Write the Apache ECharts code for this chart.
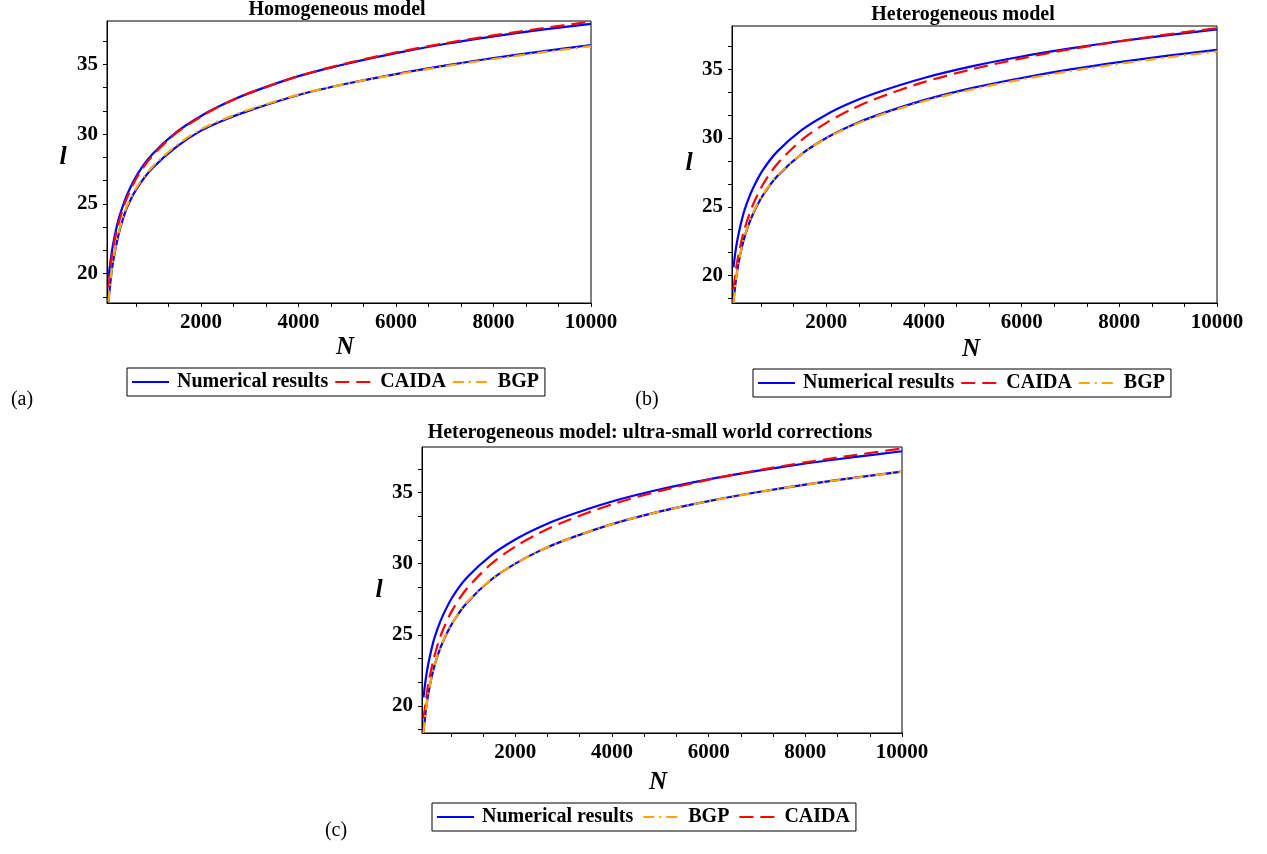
<!DOCTYPE html>
<html>
<head>
<meta charset="utf-8">
<script src="https://cdn.jsdelivr.net/npm/echarts@6/dist/echarts.min.js"></script>
<style>
html,body{margin:0;padding:0;background:#fff;}
#chart{width:1267px;height:854px;}
</style>
</head>
<body>
<div id="chart"></div>
<script>
// ---- data ----
const N = [100,150,200,300,400,500,700,1000,1500,2000,2500,3000,4000,5000,6000,7000,8000,9000,10000];

// panel (a) Homogeneous model
const a_num_upper = [19.7,21.1,22.2,23.8,24.9,25.8,27.15,28.55,30.15,31.3,32.2,32.95,34.15,35.05,35.8,36.45,37.0,37.48,37.9];
const a_caida     = [19.0,20.7,21.9,23.5,24.7,25.6,27.0,28.45,30.1,31.25,32.2,32.95,34.15,35.08,35.85,36.5,37.07,37.58,38.05];
const a_num_lower = [18.0,19.7,20.95,22.7,23.95,24.9,26.2,27.55,29.1,30.25,31.05,31.7,32.8,33.62,34.3,34.9,35.45,35.93,36.38];
const a_bgp       = [18.0,19.8,21.05,22.8,24.05,25.0,26.3,27.65,29.2,30.35,31.12,31.76,32.83,33.62,34.27,34.85,35.38,35.85,36.3];

// panel (b) Heterogeneous model
const b_num_upper = [20.6,21.95,22.95,24.45,25.5,26.35,27.66,29.03,30.59,31.7,32.56,33.26,34.37,35.23,35.93,36.52,37.04,37.49,37.9];
const b_caida     = [19.0,20.4,21.45,23.05,24.2,25.15,26.6,28.13,29.87,31.1,32.06,32.84,34.07,35.02,35.8,36.46,37.03,37.54,37.99];
const b_num_lower = [18.07,19.68,20.83,22.45,23.59,24.48,25.82,27.24,28.85,30.0,30.89,31.61,32.76,33.65,34.37,34.99,35.52,35.99,36.41];
const b_bgp       = [18.0,19.65,20.85,22.5,23.65,24.55,25.88,27.28,28.85,29.98,30.85,31.55,32.68,33.55,34.26,34.87,35.4,35.87,36.3];

// panel (c) Heterogeneous model: ultra-small world corrections
const c_num_upper = [20.6,21.95,22.95,24.45,25.5,26.35,27.66,29.03,30.59,31.7,32.56,33.26,34.37,35.23,35.93,36.52,37.04,37.49,37.9];
const c_caida     = [19.1,20.35,21.55,23.15,24.37,25.32,26.75,28.25,29.98,31.2,32.15,32.93,34.17,35.12,35.9,36.55,37.12,37.62,38.1];
const c_num_lower = [18.1,19.7,20.85,22.47,23.61,24.5,25.84,27.26,28.87,30.0,30.9,31.62,32.78,33.68,34.4,35.02,35.56,36.03,36.47];
const c_bgp       = [18.1,19.7,20.87,22.5,23.64,24.53,25.86,27.28,28.88,30.0,30.9,31.62,32.78,33.67,34.39,35.01,35.55,36.02,36.46];

// ticks
const xTickLabels = [2000,4000,6000,8000,10000];
const xTickMarks  = [666.67,1333.33,2000,2666.67,3333.33,4000,4666.67,5333.33,6000,6666.67,7333.33,8000,8666.67,9333.33,10000];
const yTickLabels = [20,25,30,35];
const yTickMarks  = [18.33,20,21.67,23.33,25,26.67,28.33,30,31.67,33.33,35,36.67];

const titles = ['Homogeneous model','Heterogeneous model','Heterogeneous model: ultra-small world corrections'];
const panelTags = ['(a)','(b)','(c)'];
const seriesNames = {num:'Numerical results', caida:'CAIDA', bgp:'BGP'};
const legendOrders = [
  ['Numerical results','CAIDA','BGP'],
  ['Numerical results','CAIDA','BGP'],
  ['Numerical results','BGP','CAIDA']
];

// ---- layout / style ----
const SERIF = '"Liberation Serif","Times New Roman",serif';
const grids = [
  {left:107, top:21, width:484, height:282},
  {left:732, top:26, width:485, height:277},
  {left:422, top:447, width:480, height:286}
];
const yRanges = [[17.9,38.1],[18.0,38.15],[18.1,38.2]];
const xMin = 70, xMax = 10000;

const BLUE = '#0000ff', RED = '#ff0000', ORANGE = '#ffa500';

function pts(ys){ return N.map((n,i)=>[n, ys[i]]); }

const panels = [
  {up:a_num_upper, caida:a_caida, low:a_num_lower, bgp:a_bgp},
  {up:b_num_upper, caida:b_caida, low:b_num_lower, bgp:b_bgp},
  {up:c_num_upper, caida:c_caida, low:c_num_lower, bgp:c_bgp}
];

const xAxes = [], yAxes = [], series = [], legends = [];
const plainNum = v => String(Math.round(v));
panels.forEach((p, gi) => {
  xAxes.push({
    type:'value', gridIndex:gi, min:xMin, max:xMax,
    axisLine:{show:true, onZero:false, lineStyle:{color:'#000', width:1}},
    axisTick:{show:true, inside:false, length:4, customValues:xTickMarks, lineStyle:{color:'#000'}},
    axisLabel:{show:true, customValues:xTickLabels, margin:9, color:'#000', formatter:plainNum,
      fontFamily:SERIF, fontWeight:'bold', fontSize:21},
    splitLine:{show:false}
  });
  yAxes.push({
    type:'value', gridIndex:gi, min:yRanges[gi][0], max:yRanges[gi][1],
    axisLine:{show:true, onZero:false, lineStyle:{color:'#000', width:1}},
    axisTick:{show:true, inside:false, length:4, customValues:yTickMarks, lineStyle:{color:'#000'}},
    axisLabel:{show:true, customValues:yTickLabels, margin:9, color:'#000', formatter:plainNum,
      fontFamily:SERIF, fontWeight:'bold', fontSize:21},
    splitLine:{show:false}
  });
  const common = {type:'line', xAxisIndex:gi, yAxisIndex:gi, showSymbol:false, symbol:'none',
    smooth:0.3, silent:true, animation:false};
  series.push(Object.assign({}, common, {name:seriesNames.num, data:pts(p.up),
    lineStyle:{color:BLUE, width:2.2}, itemStyle:{color:BLUE}}));
  series.push(Object.assign({}, common, {name:seriesNames.num, data:pts(p.low),
    lineStyle:{color:BLUE, width:2.2}, itemStyle:{color:BLUE}}));
  series.push(Object.assign({}, common, {name:seriesNames.caida, data:pts(p.caida),
    lineStyle:{color:RED, width:2.2, type:[14,7]}, itemStyle:{color:RED}}));
  series.push(Object.assign({}, common, {name:seriesNames.bgp, data:pts(p.bgp),
    lineStyle:{color:ORANGE, width:2.2, type:[11,5,2,5]}, itemStyle:{color:ORANGE}}));
});

const legendPos = [{left:127, top:368, gap:6},{left:753, top:369, gap:6},{left:432, top:803, gap:9}];
legendPos.forEach((lp, gi) => {
  legends.push({
    data: legendOrders[gi], left:lp.left, top:lp.top, orient:'horizontal',
    itemWidth:37, itemHeight:14, itemGap:lp.gap, padding:[4,6,4,4],
    borderColor:'#000', borderWidth:1, backgroundColor:'#fff',
    selectedMode:false,
    itemStyle:{opacity:0, color:'rgba(0,0,0,0)', borderColor:'rgba(0,0,0,0)', borderWidth:0},
    textStyle:{fontFamily:SERIF, fontWeight:'bold', fontSize:20, color:'#000', padding:[0,0,0,3]}
  });
});

const txt = (t, x, y, font, align) => ({
  type:'text', x:x, y:y, silent:true,
  style:{text:t, font:font, fill:'#000', align:align||'center', verticalAlign:'middle',
    textAlign:align||'center', textVerticalAlign:'middle'}
});
const titlePos = [[337,10],[963,15],[650,433]];
const tagPos = [[22,400],[647,400],[336,831]];
const lPos = [[63,157],[689,163],[379,590]];
const nPos = [[345,348],[971,350],[658,783]];
const graphics = [];
for (let i=0;i<3;i++){
  graphics.push(txt(titles[i], titlePos[i][0], titlePos[i][1], 'bold 20px ' + SERIF));
  graphics.push(txt(panelTags[i], tagPos[i][0], tagPos[i][1], '20px ' + SERIF));
  graphics.push(txt('l', lPos[i][0], lPos[i][1], 'italic bold 26px ' + SERIF));
  graphics.push(txt('N', nPos[i][0], nPos[i][1], 'italic bold 25px ' + SERIF));
}

const chart = echarts.init(document.getElementById('chart'), null, {renderer:'canvas'});
chart.setOption({
  backgroundColor:'#fff',
  animation:false,
  grid: grids.map(g => Object.assign({show:true, borderColor:'#000', borderWidth:1, backgroundColor:'#fff', containLabel:false}, g)),
  xAxis: xAxes,
  yAxis: yAxes,
  legend: legends,
  series: series,
  graphic: graphics
});
</script>
</body>
</html>
